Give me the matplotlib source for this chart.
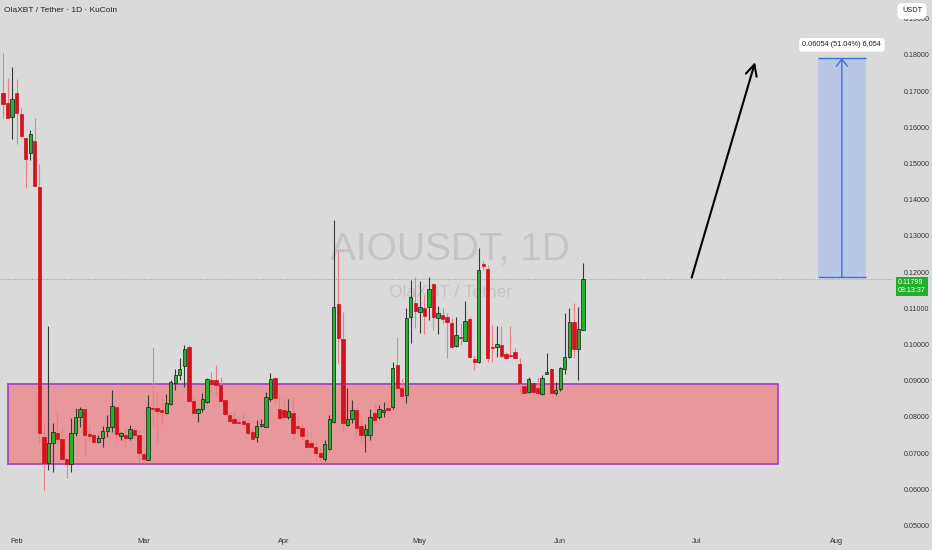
import numpy as np
import pandas as pd
import matplotlib
matplotlib.use("Agg")
import matplotlib.pyplot as plt
import matplotlib.dates as mdates
from matplotlib.patches import Rectangle
from matplotlib.ticker import FormatStrFormatter
from matplotlib.transforms import blended_transform_factory

plt.rcParams["font.family"] = ["Liberation Sans Narrow", "Liberation Sans", "DejaVu Sans"]

# daily candles, 2025-01-29 .. 2025-06-06
FIRST_DAY = "2025-01-29"
opens = [0.1696, 0.1667, 0.1628, 0.1694, 0.1637, 0.1572, 0.1530, 0.1563, 0.1436, 0.0746,
         0.0672, 0.0727, 0.0755, 0.0739, 0.0683, 0.0670, 0.0757, 0.0799, 0.0821, 0.0753,
         0.0750, 0.0732, 0.0743, 0.0761, 0.0772, 0.0828, 0.0748, 0.0750, 0.0741, 0.0764,
         0.0750, 0.0697, 0.0681, 0.0826, 0.0824, 0.0819, 0.0810, 0.0836, 0.0893, 0.0916,
         0.0941, 0.0994, 0.0845, 0.0810, 0.0822, 0.0842, 0.0902, 0.0902, 0.0888, 0.0847,
         0.0806, 0.0794, 0.0787, 0.0790, 0.0783, 0.0759, 0.0746, 0.0775, 0.0773, 0.0850,
         0.0907, 0.0822, 0.0819, 0.0801, 0.0812, 0.0775, 0.0769, 0.0736, 0.0727, 0.0716,
         0.0700, 0.0683, 0.0711, 0.0787, 0.1112, 0.1015, 0.0778, 0.0794, 0.0819, 0.0775,
         0.0750, 0.0750, 0.0810, 0.0799, 0.0815, 0.0824, 0.0827, 0.0944, 0.0879, 0.0861,
         0.1075, 0.1114, 0.1089, 0.1100, 0.1103, 0.1167, 0.1073, 0.1082, 0.1077, 0.1061,
         0.0997, 0.1022, 0.1010, 0.1072, 0.0959, 0.0951, 0.1222, 0.1209, 0.0994, 0.0993,
         0.0999, 0.0974, 0.0971, 0.0979, 0.0946, 0.0886, 0.0870, 0.0893, 0.0879, 0.0864,
         0.0918, 0.0932, 0.0866, 0.0877, 0.0932, 0.0965, 0.1063, 0.0987, 0.1040]
highs = [0.1805, 0.1737, 0.1768, 0.1734, 0.1657, 0.1572, 0.1593, 0.1627, 0.1499, 0.0787,
         0.1051, 0.0783, 0.0813, 0.0773, 0.0683, 0.0796, 0.0824, 0.0828, 0.0821, 0.0778,
         0.0752, 0.0750, 0.0775, 0.0806, 0.0875, 0.0830, 0.0758, 0.0767, 0.0778, 0.0773,
         0.0764, 0.0702, 0.0861, 0.0994, 0.0866, 0.0852, 0.0864, 0.0902, 0.0932, 0.0962,
         0.0999, 0.0999, 0.0861, 0.0826, 0.0866, 0.0909, 0.0925, 0.0944, 0.0911, 0.0849,
         0.0815, 0.0815, 0.0798, 0.0812, 0.0794, 0.0765, 0.0792, 0.0794, 0.0870, 0.0921,
         0.0911, 0.0861, 0.0852, 0.0849, 0.0856, 0.0800, 0.0781, 0.0753, 0.0736, 0.0727,
         0.0714, 0.0736, 0.0806, 0.1344, 0.1261, 0.1091, 0.0879, 0.0847, 0.0825, 0.0800,
         0.0781, 0.0821, 0.0840, 0.0833, 0.0842, 0.0852, 0.0953, 0.1022, 0.0907, 0.1100,
         0.1178, 0.1188, 0.1177, 0.1137, 0.1188, 0.1170, 0.1107, 0.1100, 0.1086, 0.1073,
         0.1075, 0.1059, 0.1121, 0.1075, 0.0970, 0.1266, 0.1232, 0.1220, 0.1055, 0.1050,
         0.1051, 0.0980, 0.1050, 0.0990, 0.0962, 0.0886, 0.0911, 0.0898, 0.0911, 0.0916,
         0.0976, 0.0935, 0.0898, 0.0939, 0.1088, 0.1100, 0.1114, 0.1103, 0.1226]
lows = [0.1626, 0.1625, 0.1567, 0.1554, 0.1574, 0.1432, 0.1510, 0.1438, 0.0728, 0.0598,
        0.0654, 0.0647, 0.0728, 0.0681, 0.0631, 0.0647, 0.0748, 0.0773, 0.0690, 0.0737,
        0.0729, 0.0727, 0.0716, 0.0746, 0.0759, 0.0734, 0.0737, 0.0716, 0.0737, 0.0741,
        0.0677, 0.0672, 0.0681, 0.0773, 0.0723, 0.0778, 0.0808, 0.0833, 0.0875, 0.0902,
        0.0884, 0.0845, 0.0808, 0.0787, 0.0815, 0.0838, 0.0866, 0.0856, 0.0842, 0.0806,
        0.0787, 0.0783, 0.0781, 0.0778, 0.0750, 0.0736, 0.0732, 0.0772, 0.0773, 0.0845,
        0.0838, 0.0792, 0.0796, 0.0794, 0.0736, 0.0755, 0.0736, 0.0714, 0.0714, 0.0679,
        0.0679, 0.0679, 0.0709, 0.0783, 0.0950, 0.0759, 0.0776, 0.0783, 0.0746, 0.0727,
        0.0704, 0.0736, 0.0783, 0.0794, 0.0799, 0.0815, 0.0821, 0.0874, 0.0856, 0.0840,
        0.1004, 0.1045, 0.1031, 0.1029, 0.1068, 0.1040, 0.1029, 0.1061, 0.0962, 0.0990,
        0.0993, 0.0999, 0.1010, 0.0962, 0.0930, 0.0950, 0.1206, 0.0953, 0.0953, 0.0967,
        0.0963, 0.0957, 0.0969, 0.0962, 0.0870, 0.0864, 0.0866, 0.0865, 0.0861, 0.0861,
        0.0918, 0.0864, 0.0861, 0.0873, 0.0919, 0.0962, 0.0962, 0.0902, 0.1040]
closes = [0.1664, 0.1627, 0.1678, 0.1639, 0.1576, 0.1512, 0.1581, 0.1438, 0.0755, 0.0672,
          0.0727, 0.0758, 0.0738, 0.0683, 0.0670, 0.0755, 0.0799, 0.0822, 0.0750, 0.0748,
          0.0732, 0.0743, 0.0761, 0.0773, 0.0831, 0.0753, 0.0755, 0.0743, 0.0767, 0.0750,
          0.0700, 0.0684, 0.0827, 0.0822, 0.0817, 0.0815, 0.0838, 0.0896, 0.0916, 0.0932,
          0.0987, 0.0845, 0.0810, 0.0822, 0.0849, 0.0904, 0.0890, 0.0888, 0.0845, 0.0807,
          0.0790, 0.0784, 0.0783, 0.0781, 0.0757, 0.0738, 0.0775, 0.0781, 0.0856, 0.0905,
          0.0852, 0.0796, 0.0799, 0.0817, 0.0757, 0.0769, 0.0748, 0.0716, 0.0716, 0.0700,
          0.0689, 0.0725, 0.0794, 0.1103, 0.1017, 0.0783, 0.0794, 0.0819, 0.0769, 0.0750,
          0.0766, 0.0799, 0.0792, 0.0822, 0.0819, 0.0819, 0.0935, 0.0879, 0.0858, 0.1074,
          0.1131, 0.1093, 0.1103, 0.1079, 0.1153, 0.1075, 0.1088, 0.1070, 0.1063, 0.0993,
          0.1027, 0.1018, 0.1066, 0.0965, 0.0953, 0.1206, 0.1217, 0.0962, 0.0990, 0.1002,
          0.0969, 0.0962, 0.0969, 0.0962, 0.0893, 0.0867, 0.0904, 0.0870, 0.0866, 0.0907,
          0.0925, 0.0866, 0.0875, 0.0935, 0.0965, 0.1063, 0.0987, 0.1042, 0.11799]

# support zone
ZONE_START, ZONE_END = "2025-01-30", "2025-07-19"
ZONE_LOW, ZONE_HIGH = 0.0670, 0.0892

# price range tool
RANGE_START, RANGE_END = "2025-07-27 20:00", "2025-08-07 12:00"
RANGE_LOW, RANGE_HIGH = 0.1186, 0.17914
RANGE_LABEL = "0.06054 (51.04%) 6,054"

# hand drawn arrow
ARROW_FROM = ("2025-06-30", 0.1185)
ARROW_TO = ("2025-07-14", 0.1780)

LAST_PRICE = 0.11799
COUNTDOWN = "08:13:37"
Y_TICKS = [0.05, 0.06, 0.07, 0.08, 0.09, 0.10, 0.11, 0.12,
           0.13, 0.14, 0.15, 0.16, 0.17, 0.18, 0.19]

TITLE = "OlaXBT / Tether · 1D · KuCoin"
WATERMARK = "AIOUSDT, 1D"
WATERMARK_SUB = "OlaXBT / Tether"

XLIM = ("2025-01-28 07:30", "2025-08-13 10:50")
YLIM = (0.04823, 0.19519)

BG = "#dadada"
UP, DOWN = "#22b22e", "#d3121d"
UP_WICK, DOWN_WICK = "#3a3a3a", "#ec7f86"


def dnum(s):
    return mdates.date2num(pd.Timestamp(s))


fig = plt.figure(figsize=(9.32, 5.5), dpi=100, facecolor=BG)
ax = fig.add_axes([0.0, 18 / 550, 893 / 932, 532 / 550])
ax.set_facecolor(BG)
for s in ax.spines.values():
    s.set_visible(False)

x = mdates.date2num(pd.date_range(FIRST_DAY, periods=len(opens), freq="D"))
o, h, l, c = map(np.asarray, (opens, highs, lows, closes))
up = c >= o

ax.text(0.504, 0.53, WATERMARK, transform=ax.transAxes, ha="center", va="center",
        fontsize=28, color="#c4c4c4", zorder=0.5)
ax.text(0.504, 0.451, WATERMARK_SUB, transform=ax.transAxes, ha="center", va="center",
        fontsize=12.5, color="#c4c4c4", zorder=0.5)

zs, ze = dnum(ZONE_START), dnum(ZONE_END)
ax.add_patch(Rectangle((zs, ZONE_LOW), ze - zs, ZONE_HIGH - ZONE_LOW,
                       facecolor="#e8979a", edgecolor="#a846c2", lw=1.3, zorder=1))

ax.axhline(LAST_PRICE, color="#97a597", ls=(0, (1, 1.5)), lw=0.7, zorder=1.5)

ax.vlines(x, l, h, colors=np.where(up, UP_WICK, DOWN_WICK), lw=0.8, zorder=2)
body_lo = np.minimum(o, c)
body_h = np.maximum(np.abs(c - o), 0.00025)
ax.bar(x, body_h, bottom=body_lo, width=0.74,
       color=np.where(up, UP, DOWN), edgecolor=np.where(up, "#1a1a1a", DOWN),
       linewidth=0.5, zorder=3)

# price range box
rs, re = dnum(RANGE_START), dnum(RANGE_END)
ax.add_patch(Rectangle((rs, RANGE_LOW), re - rs, RANGE_HIGH - RANGE_LOW,
                       facecolor="#b9c7e6", edgecolor="none", zorder=1))
ax.hlines([RANGE_LOW, RANGE_HIGH], rs, re, colors="#3f6fd8", lw=1.0, zorder=2)
rc = (rs + re) / 2
ax.annotate("", xy=(rc, RANGE_HIGH), xytext=(rc, RANGE_LOW),
            arrowprops=dict(arrowstyle="->,head_length=0.5,head_width=0.4",
                            color="#3f6fd8", lw=1.0, shrinkA=0, shrinkB=0), zorder=3)
ax.annotate(RANGE_LABEL, xy=(rc, RANGE_HIGH), xytext=(0, 9.5), textcoords="offset points",
            ha="center", va="center", fontsize=5.3, color="#222222",
            bbox=dict(boxstyle="round,pad=0.45", fc="white", ec="none"), zorder=5)

ax.annotate("", xy=(dnum(ARROW_TO[0]), ARROW_TO[1]),
            xytext=(dnum(ARROW_FROM[0]), ARROW_FROM[1]),
            arrowprops=dict(arrowstyle="->,head_length=0.8,head_width=0.4",
                            color="black", lw=1.5, shrinkA=0, shrinkB=0), zorder=4)

ax.set_xlim(dnum(XLIM[0]), dnum(XLIM[1]))
ax.set_ylim(*YLIM)

ax.xaxis.set_major_locator(mdates.MonthLocator())
ax.xaxis.set_major_formatter(mdates.DateFormatter("%b"))
ax.yaxis.tick_right()
ax.set_yticks(Y_TICKS)
ax.yaxis.set_major_formatter(FormatStrFormatter("%.5f"))
ax.tick_params(axis="x", length=0, pad=4, labelsize=5.3, labelcolor="#333333")
ax.tick_params(axis="y", length=0, pad=8, labelsize=5.1, labelcolor="#333333")

# last price tag
tr = blended_transform_factory(ax.transAxes, ax.transData)
ax.annotate(f"{LAST_PRICE:.5f}\n{COUNTDOWN}", xy=(1.0, LAST_PRICE), xycoords=tr,
            xytext=(3.5, -5), textcoords="offset points", ha="left", va="center",
            fontsize=5.1, color="white", linespacing=1.15, annotation_clip=False,
            bbox=dict(boxstyle="square,pad=0.3", fc="#22b02c", ec="none"), zorder=6)

fig.text(4 / 932, 1 - 10 / 550, TITLE, ha="left", va="center", fontsize=6, color="#222222")
fig.text(912 / 932, 1 - 11 / 550, "USDT", ha="center", va="center", fontsize=5.3,
         color="#222222", bbox=dict(boxstyle="round,pad=0.6", fc="white", ec="none"),
         zorder=10)

fig.savefig("out.png", dpi=100, facecolor=BG)
